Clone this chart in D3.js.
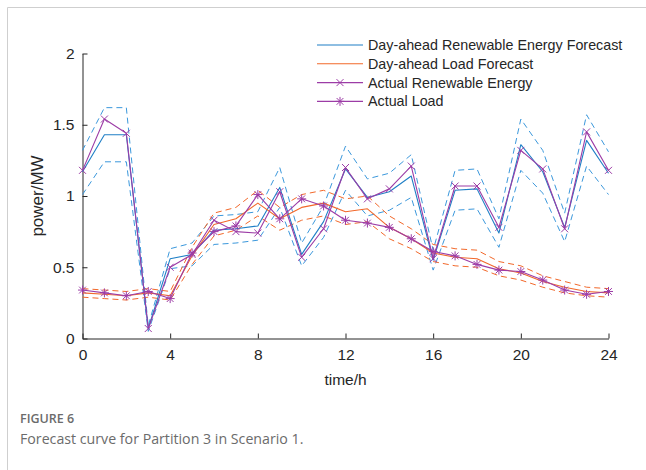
<!DOCTYPE html>
<html>
<head>
<meta charset="utf-8">
<script src="https://cdn.jsdelivr.net/npm/d3@7/dist/d3.min.js"></script>
<style>
  html, body { margin: 0; padding: 0; background: #fff; }
  svg { display: block; }
</style>
</head>
<body>
<svg id="chart" width="646" height="470"></svg>
<script>
// Hourly forecasts and measurements for Partition 3, Scenario 1 (MW)
const hours = d3.range(0, 25);
const reForecast = [1.17,1.43,1.43,0.07,0.56,0.59,0.76,0.77,0.79,1.06,0.59,0.82,1.19,0.99,1.03,1.14,0.55,1.04,1.05,0.74,1.36,1.17,0.78,1.39,1.16];
const reUpper    = [1.32,1.62,1.62,0.09,0.63,0.67,0.86,0.87,0.89,1.20,0.67,0.93,1.35,1.12,1.16,1.29,0.62,1.18,1.19,0.84,1.54,1.32,0.88,1.57,1.31];
const reLower    = [1.01,1.24,1.24,0.05,0.49,0.51,0.66,0.67,0.69,0.92,0.51,0.71,1.04,0.86,0.90,0.99,0.48,0.90,0.91,0.64,1.18,1.02,0.68,1.21,1.01];
const loadForecast = [0.32,0.31,0.30,0.32,0.30,0.58,0.80,0.84,0.95,0.84,0.92,0.95,0.89,0.91,0.78,0.70,0.60,0.57,0.56,0.49,0.46,0.40,0.36,0.33,0.32];
const loadUpper    = [0.35,0.34,0.33,0.35,0.33,0.64,0.88,0.92,1.04,0.92,1.01,1.04,0.98,1.00,0.86,0.77,0.66,0.63,0.62,0.54,0.51,0.44,0.40,0.36,0.35];
const loadLower    = [0.29,0.28,0.27,0.29,0.27,0.52,0.72,0.76,0.86,0.76,0.83,0.86,0.80,0.82,0.70,0.63,0.54,0.51,0.50,0.44,0.41,0.36,0.32,0.30,0.29];
const reActual   = [1.18,1.54,1.44,0.07,0.50,0.59,0.83,0.75,0.74,1.03,0.57,0.77,1.20,0.98,1.05,1.21,0.56,1.07,1.07,0.78,1.32,1.19,0.77,1.45,1.18];
const loadActual = [0.34,0.32,0.30,0.33,0.28,0.60,0.75,0.79,1.01,0.84,0.98,0.93,0.83,0.81,0.78,0.70,0.61,0.58,0.52,0.48,0.47,0.41,0.34,0.31,0.33];

const xTicks = [0, 4, 8, 12, 16, 20, 24];
const yTicks = [0, 0.5, 1, 1.5, 2];
const legendLabels = [
  "Day-ahead Renewable Energy Forecast",
  "Day-ahead Load Forecast",
  "Actual Renewable Energy",
  "Actual Load"
];

const BLUE = "#1f7fc6", BLUE_D = "#3b98dc", ORANGE = "#f2682a", PURPLE = "#9c3ca6";
const FONT = "'Liberation Sans', Arial, sans-serif";

const svg = d3.select("#chart");

// card frame
svg.append("path")
  .attr("d", "M7.5,470 V7.5 H646")
  .attr("fill", "none").attr("stroke", "#cfcfcf").attr("stroke-width", 1);

const x = d3.scaleLinear().domain([0, 24]).range([82.5, 608.5]);
const y = d3.scaleLinear().domain([0, 2]).range([338.5, 53.5]);

const axisColor = "#262626";

// axes (ticks point inward)
const gx = svg.append("g").attr("transform", `translate(0,${y(0)})`)
  .call(d3.axisBottom(x).tickValues(xTicks).tickSizeInner(-5).tickSizeOuter(0).tickPadding(10).tickFormat(d3.format("d")));
const gy = svg.append("g").attr("transform", `translate(${x(0)},0)`)
  .call(d3.axisLeft(y).tickValues(yTicks).tickSizeInner(-5).tickSizeOuter(0).tickPadding(8).tickFormat(d => d3.format("")(d)));
[gx, gy].forEach(g => {
  g.select(".domain").attr("stroke", axisColor);
  g.selectAll(".tick line").attr("stroke", axisColor);
  g.selectAll(".tick text").attr("fill", axisColor).attr("font-family", FONT).attr("font-size", 15.5);
});

svg.append("text").text("time/h")
  .attr("x", (x(0) + x(24)) / 2).attr("y", 385)
  .attr("text-anchor", "middle").attr("font-family", FONT).attr("font-size", 15.5).attr("fill", axisColor);
svg.append("text").text("power/MW")
  .attr("transform", `translate(43,${(y(0) + y(2)) / 2}) rotate(-90)`)
  .attr("text-anchor", "middle").attr("font-family", FONT).attr("font-size", 17).attr("fill", axisColor);

const line = d3.line().x((d, i) => x(hours[i])).y(d => y(d));
const plot = svg.append("g");

function drawLine(data, color, dashed, width) {
  plot.append("path").datum(data)
    .attr("d", line).attr("fill", "none")
    .attr("stroke", color).attr("stroke-width", width || 1)
    .attr("stroke-dasharray", dashed ? "6,4" : null)
    .attr("stroke-linejoin", "round");
}

drawLine(reUpper, BLUE_D, true);
drawLine(reLower, BLUE_D, true);
drawLine(loadUpper, ORANGE, true);
drawLine(loadLower, ORANGE, true);
drawLine(reForecast, BLUE, false, 1.1);
drawLine(loadForecast, ORANGE, false, 1.1);
drawLine(reActual, PURPLE, false, 1.1);
drawLine(loadActual, PURPLE, false, 1.1);

// marker paths
const crossPath = r => `M${-r},${-r}L${r},${r}M${-r},${r}L${r},${-r}`;
const starPath = r => crossPath(r * 0.75) + `M0,${-r}V${r}M${-r},0H${r}`;

plot.selectAll(".mx").data(reActual).join("path")
  .attr("transform", (d, i) => `translate(${x(hours[i])},${y(d)})`)
  .attr("d", crossPath(3.5)).attr("stroke", PURPLE).attr("stroke-width", 1).attr("fill", "none");
plot.selectAll(".ms").data(loadActual).join("path")
  .attr("transform", (d, i) => `translate(${x(hours[i])},${y(d)})`)
  .attr("d", starPath(4.5)).attr("stroke", PURPLE).attr("stroke-width", 1).attr("fill", "none");

// legend
const legend = svg.append("g");
const lgColors = [BLUE, ORANGE, PURPLE, PURPLE];
const lgMarkers = [null, null, crossPath(3.5), starPath(4.5)];
legendLabels.forEach((label, i) => {
  const ly = 45 + i * 18.8;
  const row = legend.append("g").attr("transform", `translate(0,${ly})`);
  row.append("line").attr("x1", 317).attr("x2", 363).attr("y1", 0).attr("y2", 0)
    .attr("stroke", lgColors[i]).attr("stroke-width", 1.1);
  if (lgMarkers[i]) {
    row.append("path").attr("transform", "translate(340,0)").attr("d", lgMarkers[i])
      .attr("stroke", lgColors[i]).attr("fill", "none");
  }
  row.append("text").text(label).attr("x", 368).attr("y", 0).attr("dy", "0.35em")
    .attr("font-family", FONT).attr("font-size", 14.3).attr("fill", axisColor);
});

// caption
svg.append("text").text("FIGURE 6")
  .attr("x", 20).attr("y", 423)
  .attr("font-family", "'Open Sans', sans-serif").attr("font-size", 12.5).attr("font-weight", 600)
  .attr("fill", "#6b6b6b");
svg.append("text").text("Forecast curve for Partition 3 in Scenario 1.")
  .attr("x", 20).attr("y", 444)
  .attr("font-family", "'Open Sans', sans-serif").attr("font-size", 14.2)
  .attr("fill", "#6b6b6b");
</script>
</body>
</html>
